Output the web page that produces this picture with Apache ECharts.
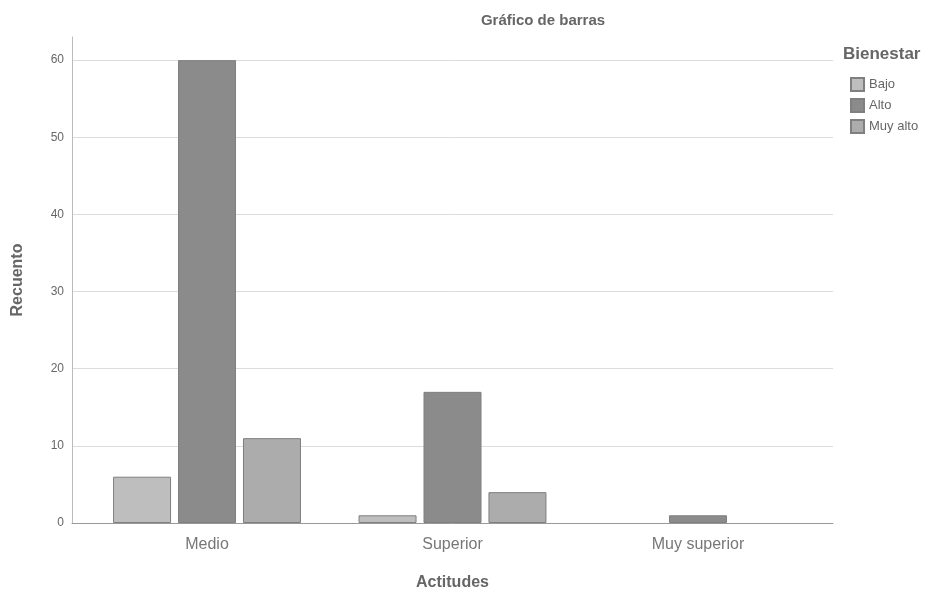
<!DOCTYPE html>
<html>
<head>
<meta charset="utf-8">
<script src="https://cdn.jsdelivr.net/npm/echarts@6/dist/echarts.min.js"></script>
<style>html,body{margin:0;padding:0;background:#fff}#c{width:943px;height:590px}</style>
</head>
<body>
<div id="c"></div>
<script>
var categories = ['Medio', 'Superior', 'Muy superior'];
var seriesNames = ['Bajo', 'Alto', 'Muy alto'];
var bajo = [6, 1, 0];
var alto = [60, 17, 1];
var muyAlto = [11, 4, 0];
var yTicks = [0, 10, 20, 30, 40, 50, 60];

var colors = ['#bebebe', '#8b8b8b', '#acacac'];
var font = "'Liberation Sans', Arial, sans-serif";

function toPairs(arr) { return arr.map(function (v, i) { return [i, v === 0 ? null : v]; }); }
var values = [bajo, alto, muyAlto];

var chart = echarts.init(document.getElementById('c'), null, {renderer: 'canvas'});
var splitColors = yTicks.map(function () { return '#dcdcdc'; });
splitColors.push('rgba(0,0,0,0)');

chart.setOption({
  animation: false,
  textStyle: {fontFamily: font},
  title: {
    text: 'Gráfico de barras',
    left: 538, top: 8, textAlign: 'center',
    textStyle: {fontFamily: font, fontSize: 15, fontWeight: 'bold', color: '#666'}
  },
  graphic: [{
    type: 'text', left: 843, top: 46,
    style: {text: 'Bienestar', fontFamily: font, fontSize: 17, fontWeight: 'bold', fill: '#666'}
  }],
  legend: {
    orient: 'vertical', left: 850, top: 77, padding: 0,
    itemWidth: 13, itemHeight: 13, itemGap: 6,
    icon: 'rect',
    data: seriesNames,
    textStyle: {fontFamily: font, fontSize: 13, color: '#666', lineHeight: 13, padding: [0, 0, 0, 0]}
  },
  grid: {left: 72, right: 110, top: 37, bottom: 67, containLabel: false, outerBoundsMode: 'none'},
  xAxis: {
    type: 'value', min: -0.55, max: 2.55,
    name: 'Actitudes', nameLocation: 'middle', nameGap: 52,
    nameTextStyle: {fontFamily: font, fontSize: 16, fontWeight: 'bold', color: '#666'},
    axisLine: {show: true, onZero: false, lineStyle: {color: '#999'}},
    axisTick: {show: false},
    splitLine: {show: false},
    axisLabel: {
      customValues: [0, 1, 2],
      formatter: function (v) { return categories[Math.round(v)]; },
      fontFamily: font, fontSize: 16, color: '#777', margin: 14
    }
  },
  yAxis: {
    type: 'value', min: 0, max: 63, interval: 10,
    name: 'Recuento', nameLocation: 'middle', nameGap: 46, nameRotate: 90,
    nameTextStyle: {fontFamily: font, fontSize: 16, fontWeight: 'bold', color: '#666'},
    axisLine: {show: true, onZero: false, lineStyle: {color: '#bbb'}},
    axisTick: {show: false},
    splitLine: {show: true, lineStyle: {color: splitColors}},
    axisLabel: {showMaxLabel: false, fontFamily: font, fontSize: 12, color: '#666', margin: 8}
  },
  series: seriesNames.map(function (n, k) {
    return {
      name: n, type: 'bar',
      data: toPairs(values[k]),
      barWidth: 58, barGap: '12%',
      itemStyle: {color: colors[k], borderColor: '#7f7f7f', borderWidth: 1}
    };
  })
});
</script>
</body>
</html>
